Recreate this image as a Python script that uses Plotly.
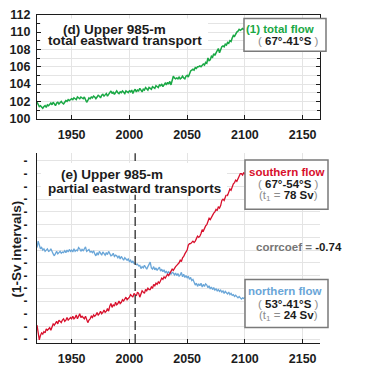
import plotly.graph_objects as go

# ---------------------------------------------------------------- data
years = list(range(1920, 2101))

# (d) total eastward transport, upper 985 m, 67°-41°S  [Sv]
total_flow = [
    101.9, 101.6, 101.4, 101.5, 101.3, 101.2, 101.4, 101.5, 101.3, 101.6,
    101.5, 101.7, 101.8, 101.6, 101.9, 101.7, 101.5, 101.8, 101.9, 101.7,
    101.9, 102.0, 101.8, 101.7, 101.9, 102.1, 102.0, 102.2, 102.1, 102.2,
    102.3, 102.2, 102.4, 102.3, 102.2, 102.5, 102.4, 102.3, 102.5, 102.4,
    102.3, 102.5, 102.2, 101.9, 102.1, 102.4, 102.3, 102.5, 102.4, 102.6,
    102.5, 102.3, 102.5, 102.7, 102.6, 102.4, 102.7, 102.8, 102.6, 102.7,
    102.9, 102.6, 102.8, 103.0, 103.2, 102.9, 103.1, 102.8, 103.0, 103.2,
    103.0, 102.9, 103.1, 103.0, 103.2, 103.1, 102.9, 103.2, 103.1, 103.0,
    103.2, 103.1, 103.3, 102.9, 103.2, 103.4, 103.1, 103.3, 103.2, 103.5,
    103.3, 103.1, 103.4, 103.3, 103.6, 103.4, 103.3, 103.6, 103.5, 103.4,
    103.7, 103.6, 103.5, 103.8, 103.7, 103.6, 103.9, 103.8, 104.0, 103.7,
    103.9, 104.1, 103.9, 104.2, 104.0, 104.3, 103.9, 104.4, 104.9, 104.7,
    104.6, 104.7, 104.6, 104.8, 104.6, 104.7, 104.9, 104.7, 104.6, 104.9,
    105.0, 104.8, 105.2, 105.5, 105.6, 105.7, 105.6, 105.9, 105.8, 106.0,
    106.0, 106.1, 106.0, 106.2, 106.3, 106.2, 106.5, 106.4, 107.0, 106.7,
    106.8, 107.2, 107.1, 107.5, 107.3, 107.6, 107.8, 108.1, 107.6, 108.0,
    108.3, 108.4, 108.3, 108.6, 108.5, 108.8, 108.7, 109.0, 108.9, 109.3,
    109.6, 109.5, 109.8, 110.0, 110.1, 110.3, 110.2, 110.3, 110.4, 110.3,
    110.4,
]

# (e) partial transports on a 1-Sv grid (each series offset by its own t1)
southern_flow = [
    1.1, 0.4, -0.05, 0.3, 0.5, 0.4, 0.6, 0.5, 0.8, 0.7,
    0.8, 0.9, 0.7, 1.0, 1.2, 1.1, 1.3, 1.4, 1.2, 1.5,
    1.4, 1.3, 1.5, 1.6, 1.4, 1.5, 1.7, 1.5, 1.6, 1.7,
    1.6, 1.8, 1.6, 1.7, 1.9, 1.6, 1.8, 2.0, 1.7, 1.8,
    1.7, 1.6, 1.8, 1.5, 1.3, 1.5, 1.6, 1.8, 1.7, 1.9,
    1.8, 1.9, 2.1, 1.9, 2.0, 2.2, 2.0, 2.1, 2.3, 2.1,
    2.2, 2.4, 2.2, 2.6, 2.8, 2.5, 2.7, 2.6, 2.9, 2.7,
    2.8, 3.0, 2.8, 2.9, 3.1, 3.0, 3.2, 3.3, 3.1, 3.2,
    3.3, 3.5, 3.4, 3.3, 3.6, 3.5, 3.4, 3.7, 3.6, 3.3,
    3.6, 3.8, 3.7, 3.6, 3.9, 3.8, 4.0, 3.9, 3.9, 4.1,
    4.0, 4.3, 4.2, 4.4, 4.3, 4.5, 4.4, 4.6, 4.8, 4.7,
    4.9, 4.8, 5.0, 5.1, 5.0, 5.2, 5.3, 5.5, 5.4, 5.6,
    5.7, 5.8, 5.9, 6.0, 6.2, 6.1, 6.4, 6.5, 6.7, 6.9,
    7.0, 7.4, 7.5, 7.5, 7.6, 7.7, 7.6, 7.7, 7.9, 8.1,
    8.0, 8.1, 8.3, 8.6, 8.5, 8.8, 8.9, 9.0, 9.3, 9.5,
    9.4, 9.6, 9.8, 9.9, 10.0, 10.2, 10.1, 10.4, 10.3, 10.5,
    10.9, 11.0, 10.9, 11.2, 11.4, 11.3, 11.6, 11.8, 11.7, 12.0,
    12.2, 12.3, 12.5, 12.4, 12.7, 12.8, 13.0, 13.0, 12.9, 13.1,
    12.95,
]

northern_flow = [
    7.2, 7.7, 7.4, 7.1, 7.2, 7.0, 7.1, 6.9, 7.0, 7.1,
    6.9, 6.95, 7.1, 6.8, 6.7, 6.55, 6.8, 6.9, 6.7, 6.8,
    6.9, 6.75, 6.85, 6.8, 6.95, 6.8, 7.0, 6.85, 7.05, 6.9,
    7.0, 6.85, 7.1, 6.9, 7.0, 6.95, 7.2, 7.1, 6.9, 7.05,
    6.95, 7.1, 7.25, 6.9, 7.0, 7.05, 6.85, 6.9, 6.8, 6.95,
    6.7, 6.55, 6.8, 6.6, 6.9, 6.7, 6.6, 6.85, 6.75, 6.6,
    6.8, 6.65, 6.9, 6.7, 6.55, 6.6, 6.75, 6.5, 6.6, 6.55,
    6.4, 6.55, 6.3, 6.5, 6.35, 6.2, 6.4, 6.25, 6.2, 6.3,
    6.1, 6.2, 6.0, 6.15, 5.95, 6.0, 5.85, 5.9, 5.75, 5.8,
    5.55, 5.7, 5.6, 5.8, 5.65, 5.5, 5.7, 5.85, 6.05, 5.6,
    5.5, 5.7, 5.45, 5.6, 5.4, 5.55, 5.65, 5.35, 5.5, 5.3,
    5.45, 5.2, 5.35, 5.15, 5.3, 5.2, 5.1, 5.25, 5.2, 5.05,
    5.2, 5.0, 5.15, 4.95, 5.05, 5.25, 4.9, 5.1, 4.85, 5.0,
    4.8, 4.95, 4.7, 4.85, 4.6, 4.7, 4.5, 4.25, 4.4, 4.15,
    4.35, 4.2, 4.4, 4.1, 4.3, 4.15, 4.35, 4.25, 4.05, 4.2,
    3.95, 4.1, 3.9, 4.05, 3.85, 3.95, 3.8, 3.9, 3.75, 3.85,
    3.7, 3.8, 3.6, 3.75, 3.65, 3.55, 3.7, 3.5, 3.6, 3.45,
    3.5, 3.35, 3.45, 3.3, 3.25, 3.35, 3.2, 3.15, 3.25, 3.2,
    3.3,
]

x_ticks = [1950, 2000, 2050, 2100, 2150]
top_y_ticks = [100, 102, 104, 106, 108, 110, 112]
sv_grid = list(range(0, 15))
marker_year = 2005
corrcoef = -0.74
south_t1 = 78
north_t1 = 24

# ---------------------------------------------------------------- styling
W, H = 384, 376
GREEN = "#1aa845"
RED = "#d8102c"
BLUE = "#6aa6d8"
INK = "#1c1c1c"
SOFT = "#8c8c8c"
GRID = "#e4e4e4"
FONT = "Liberation Sans, Arial, Helvetica, sans-serif"


def px(x):
    return x / W


def py(y):
    return 1 - y / H


tick_font = dict(family=FONT, size=12.5, color=INK, weight="bold")

fig = go.Figure()
fig.add_trace(go.Scatter(x=years, y=total_flow, mode="lines",
                         line=dict(color=GREEN, width=1.5),
                         xaxis="x", yaxis="y", showlegend=False))
fig.add_trace(go.Scatter(x=years, y=northern_flow, mode="lines",
                         line=dict(color=BLUE, width=1.3),
                         xaxis="x2", yaxis="y2", showlegend=False))
fig.add_trace(go.Scatter(x=years, y=southern_flow, mode="lines",
                         line=dict(color=RED, width=1.3),
                         xaxis="x2", yaxis="y2", showlegend=False))

x_common = dict(
    domain=[px(37), px(320)], range=[1920, 2165],
    tickvals=x_ticks, ticks="inside", ticklen=4, tickcolor=INK,
    showgrid=True, gridcolor=GRID, gridwidth=1,
    showline=True, linecolor=INK, linewidth=1.3,
    tickfont=tick_font, zeroline=False, ticklabelstandoff=4,
)

fig.update_layout(
    width=W, height=H,
    margin=dict(l=0, r=0, t=0, b=0),
    paper_bgcolor="white", plot_bgcolor="white",
    xaxis=dict(**x_common, anchor="y", mirror=True),
    yaxis=dict(
        domain=[py(116), py(8)], range=[100, 112], anchor="x",
        tickvals=top_y_ticks, ticks="inside", ticklen=4, tickcolor=INK,
        showgrid=True, gridcolor=GRID,
        minor=dict(dtick=1, showgrid=True, gridcolor=GRID,
                   ticks="inside", ticklen=3, tickcolor=INK),
        showline=True, linecolor=INK, linewidth=1.3, mirror="ticks",
        tickfont=tick_font, zeroline=False, ticklabelstandoff=3,
    ),
    xaxis2=dict(**x_common, anchor="y2"),
    yaxis2=dict(
        domain=[py(349), py(152)], range=[-0.3, 14.6], anchor="x2",
        tickvals=sv_grid, ticktext=["-"] * len(sv_grid), ticks="",
        showgrid=True, gridcolor=GRID,
        showline=True, linecolor=INK, linewidth=1.3,
        tickfont=dict(family=FONT, size=12, color=INK, weight="bold"),
        zeroline=False, ticklabelstandoff=6,
    ),
)

shapes = [
    # event year marker in panel (e)
    dict(type="line", xref="x2", yref="y2 domain", x0=marker_year, x1=marker_year,
         y0=0, y1=1, line=dict(color="#3a3a3a", width=1.4, dash="9px,4px")),
    # white backing behind the panel titles
    dict(type="rect", xref="paper", yref="paper", x0=px(41), x1=px(208),
         y0=py(41), y1=py(12), fillcolor="white", line=dict(width=0)),
    dict(type="rect", xref="paper", yref="paper", x0=px(41), x1=px(227),
         y0=py(195), y1=py(162), fillcolor="white", line=dict(width=0)),
]
# label boxes
for x0, x1, y0, y1 in [(244, 326, 12, 46), (245, 328, 159, 210), (245, 328, 283, 333)]:
    shapes.append(dict(type="rect", xref="paper", yref="paper",
                       x0=px(x0), x1=px(x1), y0=py(y1), y1=py(y0),
                       fillcolor="white", line=dict(color="#7a7a7a", width=1.5)))
fig.update_layout(shapes=shapes)


def label(text, x, y, size=11.5, color=INK, bold=True, **kw):
    fig.add_annotation(
        text=text, xref="paper", yref="paper", x=px(x), y=py(y),
        xanchor="center", yanchor="middle", showarrow=False,
        font=dict(family=FONT, size=size, color=color,
                  weight="bold" if bold else "normal"), **kw)


def paren(s):
    return f"<span style='color:{SOFT};font-weight:normal'>{s}</span>"


# panel titles
label("(d) Upper 985-m", 114, 23, size=13.5)
label("total eastward transport", 124.5, 35, size=13.5)
label("(e) Upper 985-m", 111.5, 174, size=13.5)
label("partial eastward transports", 134.5, 188, size=13.5)

# panel (d) box
label("(1) total flow", 280, 23, color=GREEN)
label(f"{paren('(')} 67°-41°S {paren(')')}", 288, 35)

# panel (e) boxes
label("southern flow", 286, 171, color=RED)
label(f"{paren('(')} 67°-54°S {paren(')')}", 288, 183.5)
label(f"{paren('(t<sub>1</sub> =')} {south_t1} Sv{paren(')')}", 288, 196)

label("northern flow", 285, 295.5, color=BLUE)
label(f"{paren('(')} 53°-41°S {paren(')')}", 288, 308)
label(f"{paren('(t<sub>1</sub> =')} {north_t1} Sv{paren(')')}", 288, 320.5)

label(f"<span style='color:#767676'>corrcoef =</span> {corrcoef:.2f}",
      299, 249.5)

# y-axis title for panel (e)
label("(1-Sv intervals)", 17, 252, size=13.5, textangle=-90)

fig.write_html("out.html")
